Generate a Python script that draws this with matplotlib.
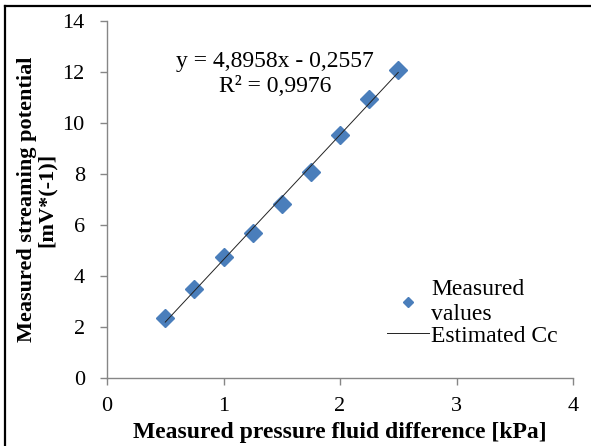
import matplotlib
matplotlib.use("Agg")
import matplotlib.pyplot as plt
from matplotlib.lines import Line2D
import numpy as np

plt.rcParams['font.family'] = ['Liberation Serif', 'DejaVu Serif']

# pressure difference [kPa] and streaming potential [mV*(-1)]
pressure = [0.5, 0.75, 1.0, 1.25, 1.5, 1.75, 2.0, 2.25, 2.5]
potential = [2.35, 3.49, 4.75, 5.69, 6.82, 8.08, 9.53, 10.94, 12.08]

slope = 4.8958
intercept = -0.2557
r2 = 0.9976

x_ticks = [0, 1, 2, 3, 4]
y_ticks = [0, 2, 4, 6, 8, 10, 12, 14]

grey = '#868686'
blue = '#4a7ebb'

fig = plt.figure(figsize=(5.91, 4.46), dpi=100)
ax = fig.add_axes([107 / 591, 68 / 446, 466 / 591, 357 / 446])

ax.plot(pressure, potential, linestyle='none', marker='D', markersize=9.5,
        color=blue, label='Measured\nvalues')
fit_x = np.array([pressure[0], pressure[-1]])
ax.plot(fit_x, slope * fit_x + intercept, color='#222222', linewidth=0.7,
        label='Estimated Cc')

ax.set_xlim(0, 4)
ax.set_ylim(0, 14)
ax.set_xticks(x_ticks)
ax.set_yticks(y_ticks)
ax.tick_params(direction='out', length=5, width=1, color=grey, labelsize=16)
ax.tick_params(axis='y', pad=11)
ax.tick_params(axis='x', pad=9)

for side in ['top', 'right']:
    ax.spines[side].set_visible(False)
for side in ['left', 'bottom']:
    ax.spines[side].set_color(grey)
    ax.spines[side].set_linewidth(1)

ax.set_xlabel('Measured pressure fluid difference [kPa]', fontsize=17,
              fontweight='bold', labelpad=4)
ax.set_ylabel('Measured streaming potential\n[mV*(-1)]', fontsize=16,
              fontweight='bold', linespacing=1.0)
ax.yaxis.set_label_coords(-0.108, 0.5)

ax.text(1.44, 12.4, f'y = {slope:.4f}x - {abs(intercept):.4f}'.replace('.', ','),
        fontsize=17, ha='center', va='center')
ax.text(1.44, 11.42, f'R² = {r2:.4f}'.replace('.', ','),
        fontsize=17, ha='center', va='center')

leg = ax.legend(loc='upper left', bbox_to_anchor=(0.601, 0.277), frameon=False,
                fontsize=17, markerscale=0.5, handlelength=1.78,
                handletextpad=0.1, labelspacing=0.0, borderpad=0,
                borderaxespad=0)
for t in leg.get_texts():
    t.set_linespacing(1.25)

# frame edges of the surrounding box
fig.add_artist(Line2D([5 / 591, 5 / 591], [0, 1 - 6 / 446], color='black',
                      linewidth=1.6, transform=fig.transFigure))
fig.add_artist(Line2D([5 / 591, 1], [1 - 6 / 446, 1 - 6 / 446], color='black',
                      linewidth=1.6, transform=fig.transFigure))

fig.savefig('out.png', dpi=100)
